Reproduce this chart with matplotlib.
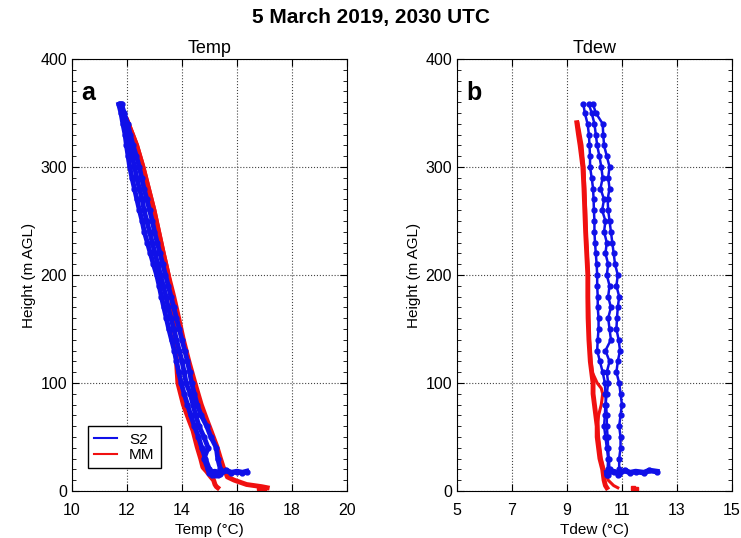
import matplotlib
matplotlib.use('Agg')
import matplotlib.pyplot as plt
from matplotlib.ticker import MultipleLocator

plt.rcParams['font.family'] = ['Liberation Sans', 'DejaVu Sans']

# heights (m AGL) of the S2 profiles
h_s2 = [358, 350, 340, 330, 320, 310, 300, 290, 280, 270, 260, 250, 240, 230, 220, 210, 200, 190,
        180, 170, 160, 150, 140, 130, 120, 110, 100, 90, 80, 70, 60, 50, 40, 30, 20, 15]

# S2 temperature profiles
t_s2_a = [11.70, 11.78, 11.85, 11.93, 11.98, 12.04, 12.10, 12.18, 12.27, 12.36, 12.45, 12.55, 12.63,
          12.74, 12.85, 12.96, 13.08, 13.17, 13.25, 13.34, 13.43, 13.52, 13.62, 13.72, 13.80, 13.88,
          13.97, 14.08, 14.20, 14.32, 14.45, 14.60, 14.72, 14.85, 15.00, 15.20]
t_s2_b = [11.80, 11.90, 12.02, 12.12, 12.22, 12.34, 12.45, 12.53, 12.62, 12.72, 12.82, 12.92, 13.00,
          13.10, 13.20, 13.30, 13.40, 13.50, 13.60, 13.70, 13.80, 13.90, 14.00, 14.10, 14.20, 14.28,
          14.35, 14.45, 14.55, 14.70, 14.90, 15.05, 15.25, 15.30, 15.40, 15.30]
t_s2_c = [11.75, 11.82, 11.95, 12.03, 12.10, 12.18, 12.28, 12.35, 12.45, 12.55, 12.62, 12.72, 12.82,
          12.92, 13.02, 13.12, 13.22, 13.32, 13.42, 13.50, 13.60, 13.70, 13.80, 13.90, 14.00, 14.08,
          14.15, 14.30, 14.40, 14.50, 14.62, 14.80, 14.95, 14.80, 14.95, 15.10]
# near-surface S2 points (Temp)
t_s2_sfc = [15.0, 15.2, 15.4, 15.6, 15.8, 16.0, 16.2, 16.35]
h_s2_sfc = [17, 18, 16, 19, 17, 18, 17, 18]

# MM temperature profiles
h_mm_t = [343, 330, 320, 300, 280, 260, 240, 220, 200, 180, 160, 140, 120, 100, 80, 66, 56, 41,
          30, 22, 18, 13, 10, 6, 4, 3]
t_mm_a = [12.00, 12.20, 12.35, 12.58, 12.78, 12.98, 13.15, 13.32, 13.50, 13.62, 13.70, 13.75, 13.80,
          13.85, 14.05, 14.25, 14.40, 14.55, 14.68, 14.76, 14.90, 15.05, 15.15, 15.20, 15.25, 15.30]
t_mm_b = [12.00, 12.20, 12.35, 12.58, 12.78, 12.98, 13.15, 13.32, 13.50, 13.70, 13.88, 14.05, 14.25,
          14.47, 14.70, 14.90, 15.05, 15.27, 15.40, 15.50, 15.58, 15.65, 15.90, 16.35, 16.90, 17.10]

# S2 dewpoint profiles
td_s2_a = [9.60, 9.65, 9.75, 9.80, 9.82, 9.84, 9.84, 9.90, 9.95, 9.97, 9.98, 10.00, 10.00, 10.02,
           10.05, 10.08, 10.10, 10.10, 10.12, 10.12, 10.15, 10.15, 10.12, 10.10, 10.20, 10.30, 10.38,
           10.40, 10.42, 10.45, 10.45, 10.48, 10.50, 10.52, 10.55, 10.50]
td_s2_b = [9.95, 10.05, 10.30, 10.32, 10.35, 10.45, 10.55, 10.50, 10.55, 10.48, 10.50, 10.55, 10.60,
           10.65, 10.70, 10.75, 10.85, 10.80, 10.90, 10.85, 10.82, 10.80, 10.88, 10.93, 10.85, 10.80,
           10.90, 10.95, 11.00, 10.95, 10.90, 10.95, 10.95, 10.90, 10.90, 10.85]
td_s2_c = [9.80, 9.90, 10.00, 10.05, 10.10, 10.18, 10.25, 10.30, 10.22, 10.35, 10.28, 10.40, 10.35,
           10.45, 10.40, 10.50, 10.45, 10.55, 10.50, 10.60, 10.50, 10.55, 10.60, 10.40, 10.55, 10.45,
           10.50, 10.45, 10.40, 10.38, 10.35, 10.40, 10.45, 10.50, 10.48, 10.45]
td_s2_sfc = [10.45, 10.7, 10.9, 11.1, 11.3, 11.5, 11.8, 12.0, 12.27]
h_td_sfc = [17, 18, 16, 19, 17, 18, 17, 19, 18]

# MM dewpoint profiles
h_mm_d = [341, 330, 320, 310, 300, 280, 260, 240, 220, 200, 180, 160, 140, 120, 110, 100, 95, 90,
          80, 70, 60, 50, 40, 30, 20, 10, 5, 3]
td_mm_a = [9.36, 9.42, 9.48, 9.53, 9.58, 9.62, 9.65, 9.68, 9.72, 9.76, 9.76, 9.77, 9.80, 9.85, 9.90,
           9.95, 9.95, 9.95, 10.00, 10.05, 10.10, 10.10, 10.15, 10.20, 10.30, 10.35, 10.40, 10.45]
td_mm_b = [9.40, 9.48, 9.55, 9.58, 9.62, 9.65, 9.68, 9.70, 9.74, 9.78, 9.78, 9.80, 9.82, 9.88, 9.92,
           10.10, 10.25, 10.30, 10.25, 10.15, 10.12, 10.15, 10.20, 10.25, 10.35, 10.50, 10.70, 10.85]
td_mm_dots = [11.4, 11.5]
h_mm_dots = [3, 2]
t_mm_dots = [16.8, 17.0]

blue = '#1010e8'
red = '#f01010'

fig = plt.figure(figsize=(7.41, 5.38), dpi=100)
ax1 = fig.add_axes([0.0972, 0.0874, 0.371, 0.803])
ax2 = fig.add_axes([0.6167, 0.0874, 0.371, 0.803])


def style(ax, xlim, xticks, xlabel, title, letter):
    ax.set_xlim(*xlim)
    ax.set_ylim(0, 400)
    ax.set_xticks(xticks)
    ax.set_yticks([0, 100, 200, 300, 400])
    ax.yaxis.set_minor_locator(MultipleLocator(10))
    ax.tick_params(direction='in', top=True, right=True, labelsize=11.5, length=5)
    ax.tick_params(axis='x', pad=9)
    ax.tick_params(which='minor', direction='in', left=True, right=True, length=3)
    ax.grid(True, linestyle=':', color='#444444', linewidth=0.8)
    ax.set_xlabel(xlabel, fontsize=11, labelpad=3)
    ax.set_ylabel('Height (m AGL)', fontsize=11, labelpad=3)
    ax.set_title(title, fontsize=13, pad=4)
    ax.text(0.035, 0.95, letter, transform=ax.transAxes, fontsize=18,
            fontweight='bold', va='top', ha='left')


# panel a
for t in (t_s2_a, t_s2_b, t_s2_c):
    ax1.plot(t, h_s2, color=blue, linewidth=3.5, marker='o', markersize=3.5, zorder=3)
ax1.plot(t_s2_sfc, h_s2_sfc, color=blue, linewidth=4, marker='o', markersize=3.5, zorder=3)
ax1.plot(t_mm_a, h_mm_t, color=red, linewidth=3.5, zorder=2)
ax1.plot(t_mm_b, h_mm_t, color=red, linewidth=3.5, zorder=2)
ax1.plot(t_mm_dots, h_mm_dots, 's', color=red, markersize=2.5)
style(ax1, (10, 20), [10, 12, 14, 16, 18, 20], 'Temp (\u00b0C)', 'Temp', 'a')

# legend
ax1.plot([], [], color=blue, linewidth=1.5, label='S2')
ax1.plot([], [], color=red, linewidth=1.5, label='MM')
handles, labels = ax1.get_legend_handles_labels()
ax1.legend(handles, labels, loc='lower left', bbox_to_anchor=(0.03, 0.035), fancybox=False,
           edgecolor='black', fontsize=11, handlelength=1.5, borderpad=0.4, labelspacing=0.1,
           framealpha=1)

# panel b
for td in (td_s2_a, td_s2_b, td_s2_c):
    ax2.plot(td, h_s2, color=blue, linewidth=1.8, marker='o', markersize=3.5, zorder=3)
ax2.plot(td_s2_sfc, h_td_sfc, color=blue, linewidth=4, marker='o', markersize=3.5, zorder=3)
ax2.plot(td_mm_a, h_mm_d, color=red, linewidth=3.5, zorder=2)
ax2.plot(td_mm_b, h_mm_d, color=red, linewidth=2.2, zorder=2)
ax2.plot(td_mm_dots, h_mm_dots, 's', color=red, markersize=2.5)
style(ax2, (5, 15), [5, 7, 9, 11, 13, 15], 'Tdew (\u00b0C)', 'Tdew', 'b')

fig.suptitle('5 March 2019, 2030 UTC', fontsize=15, fontweight='bold', y=0.985)

fig.savefig('out.png', dpi=100)
